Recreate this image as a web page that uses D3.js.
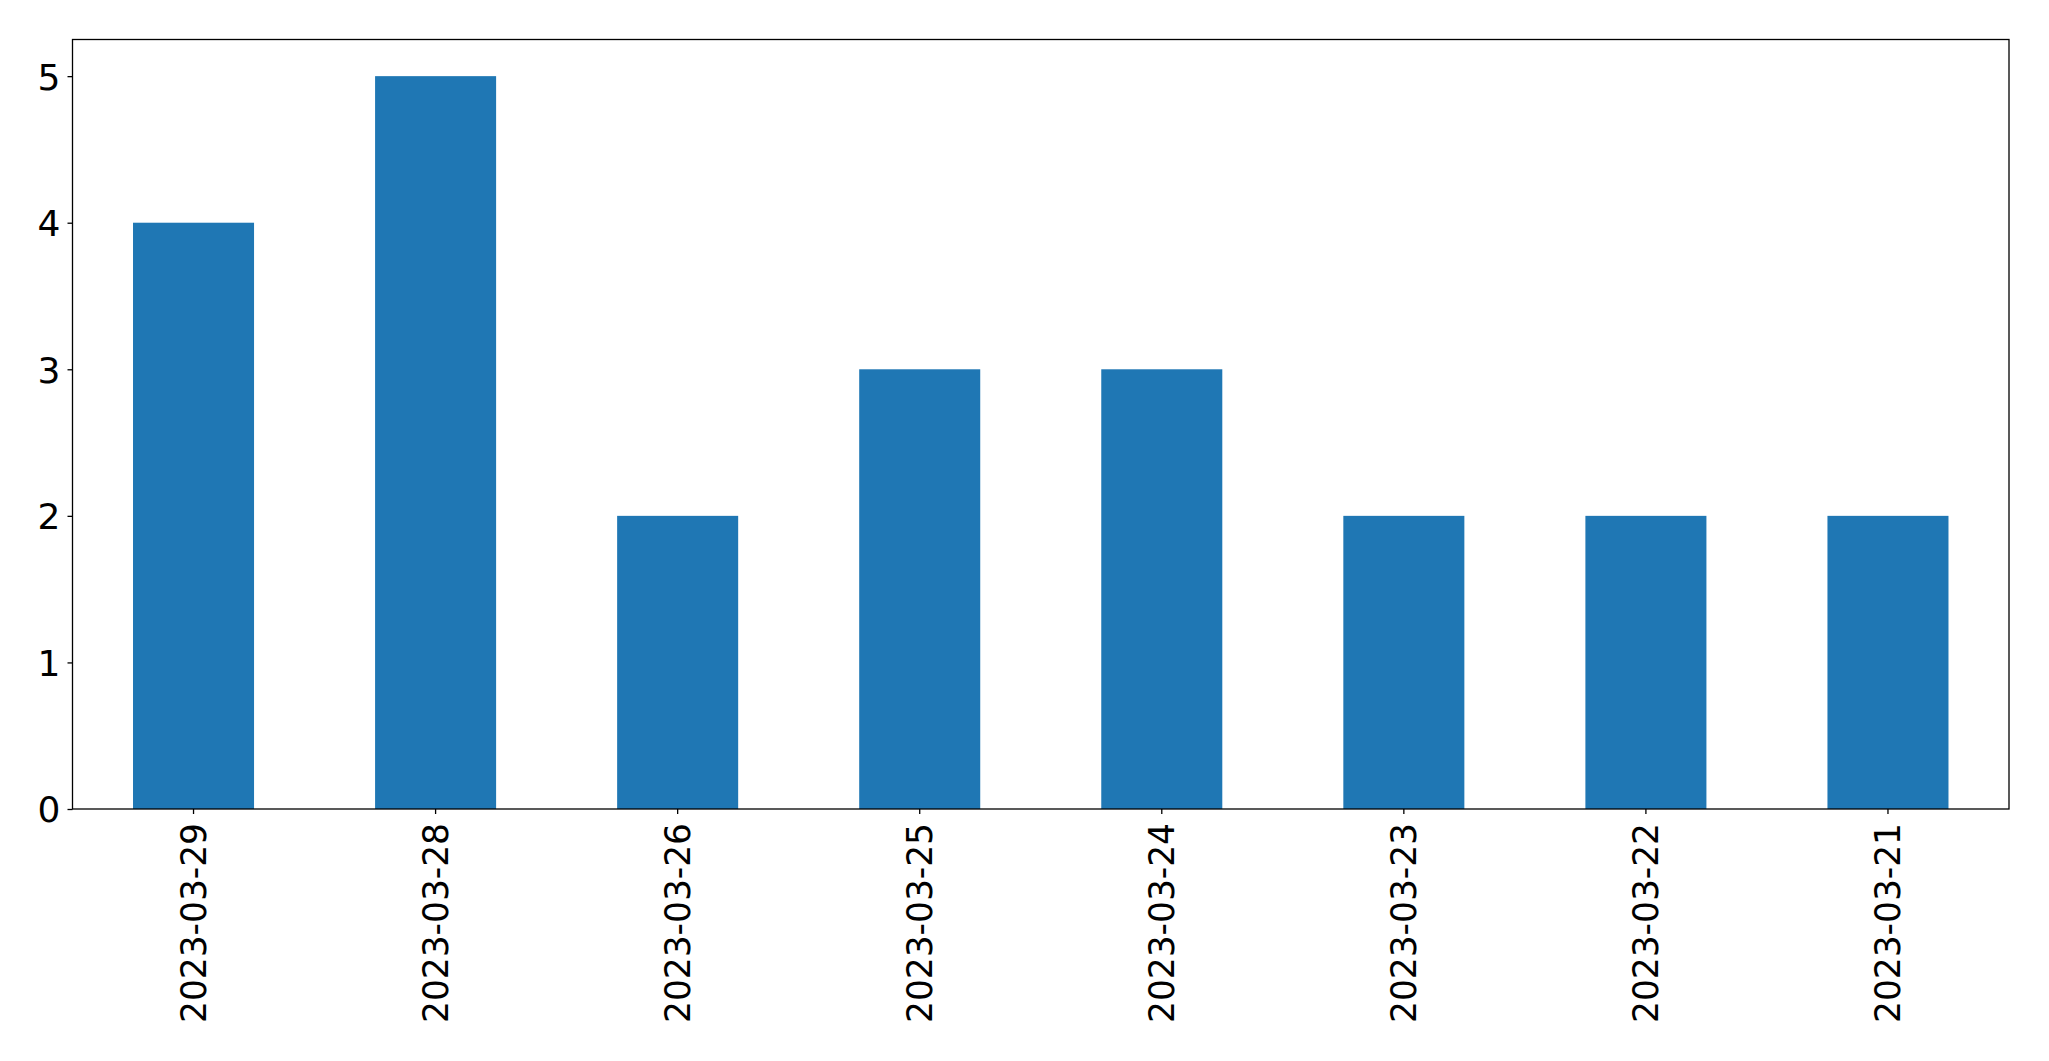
<!DOCTYPE html>
<html><head><meta charset="utf-8">
<script src="https://cdn.jsdelivr.net/npm/d3@7"></script>
<style>body{margin:0;background:#fff}svg{display:block}text{font-family:"DejaVu Sans",sans-serif}</style>
</head><body>
<script>
const categories = ["2023-03-29","2023-03-28","2023-03-26","2023-03-25","2023-03-24","2023-03-23","2023-03-22","2023-03-21"];
const values = [4,5,2,3,3,2,2,2];
const yTicks = [0,1,2,3,4,5];

const W=2049,H=1061;
const m={left:72.5,top:39.5,right:2009,bottom:809};
const svg=d3.select("body").append("svg").attr("width",W).attr("height",H);
const x=d3.scaleBand().domain(categories).range([m.left,m.right]).paddingInner(0.5).paddingOuter(0.25);
const y=d3.scaleLinear().domain([0,5.25]).range([m.bottom,m.top]);

svg.append("g").selectAll("rect").data(values).join("rect")
  .attr("x",(d,i)=>x(categories[i])).attr("width",x.bandwidth())
  .attr("y",d=>y(d)).attr("height",d=>y(0)-y(d)).attr("fill","#1f77b4");

const ya=svg.append("g").attr("transform",`translate(${m.left},0)`)
  .call(d3.axisLeft(y).tickValues(yTicks).tickFormat(d3.format("d")).tickSize(5).tickPadding(7));
ya.select(".domain").remove();
ya.selectAll("text").attr("font-size",36).attr("fill","#000").attr("dy","0.36em");
ya.selectAll("line").attr("stroke","#000").attr("stroke-width",1.3);

const xa=svg.append("g").attr("transform",`translate(0,${m.bottom})`)
  .call(d3.axisBottom(x).tickSize(5).tickPadding(0));
xa.select(".domain").remove();
xa.selectAll("line").attr("stroke","#000").attr("stroke-width",1.3);
xa.selectAll("text").attr("font-size",36).attr("fill","#000")
  .attr("transform","translate(-1,14) rotate(-90)").attr("text-anchor","end")
  .attr("x",0).attr("y",0).attr("dy","0.36em")
  .attr("textLength",200).attr("lengthAdjust","spacingAndGlyphs");

svg.append("rect").attr("x",m.left).attr("y",m.top).attr("width",m.right-m.left).attr("height",m.bottom-m.top)
  .attr("fill","none").attr("stroke","#000").attr("stroke-width",1.3);
</script>
</body></html>
